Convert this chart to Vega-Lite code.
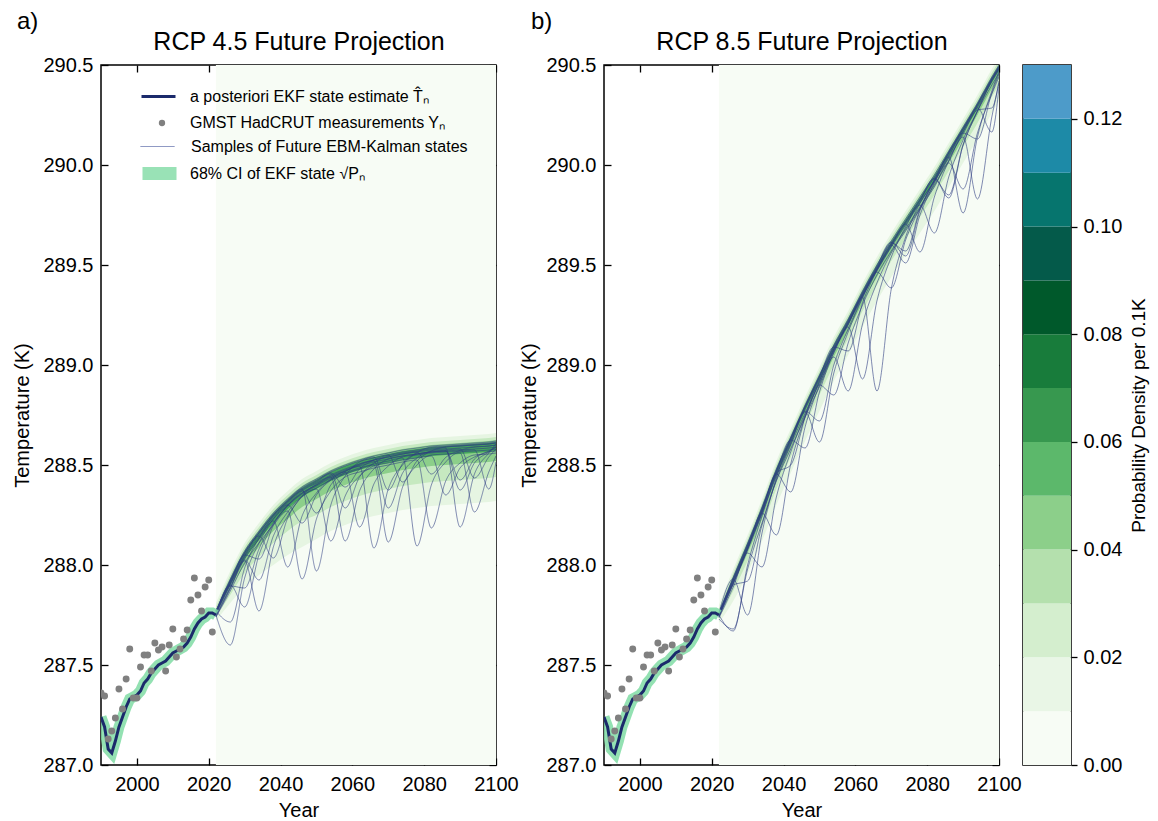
{
 "$schema": "https://vega.github.io/schema/vega-lite/v6.json",
 "padding": {"left": 12, "top": 9, "right": 2, "bottom": 2},
 "background": "white",
 "spacing": 0,
 "datasets": {
  "bg": [{"t0": 2022, "t1": 2100}],
  "hist": [
   {"t":1990,"v":287.24},{"t":1991,"v":287.19},{"t":1992,"v":287.08},{"t":1993,"v":287.06},{"t":1994,"v":287.12},{"t":1995,"v":287.19},{"t":1996,"v":287.24},{"t":1997,"v":287.29},{"t":1998,"v":287.33},{"t":1999,"v":287.34},{"t":2000,"v":287.35},{"t":2001,"v":287.37},{"t":2002,"v":287.41},{"t":2003,"v":287.43},{"t":2004,"v":287.46},{"t":2005,"v":287.48},{"t":2006,"v":287.50},{"t":2007,"v":287.51},{"t":2008,"v":287.52},{"t":2009,"v":287.54},{"t":2010,"v":287.56},{"t":2011,"v":287.57},{"t":2012,"v":287.58},{"t":2013,"v":287.59},{"t":2014,"v":287.61},{"t":2015,"v":287.64},{"t":2016,"v":287.68},{"t":2017,"v":287.71},{"t":2018,"v":287.73},{"t":2019,"v":287.74},{"t":2020,"v":287.76},{"t":2021,"v":287.76},{"t":2022,"v":287.75}
  ],
  "obs": [
   {"t":1990,"v":287.36},{"t":1991,"v":287.345},{"t":1992,"v":287.13},{"t":1993,"v":287.17},{"t":1994,"v":287.235},{"t":1995,"v":287.38},{"t":1996,"v":287.28},{"t":1997,"v":287.43},{"t":1998,"v":287.58},{"t":1999,"v":287.335},{"t":2000,"v":287.335},{"t":2001,"v":287.49},{"t":2002,"v":287.55},{"t":2003,"v":287.55},{"t":2004,"v":287.47},{"t":2005,"v":287.61},{"t":2006,"v":287.575},{"t":2007,"v":287.59},{"t":2008,"v":287.47},{"t":2009,"v":287.60},{"t":2010,"v":287.68},{"t":2011,"v":287.54},{"t":2012,"v":287.58},{"t":2013,"v":287.63},{"t":2014,"v":287.675},{"t":2015,"v":287.825},{"t":2016,"v":287.935},{"t":2017,"v":287.85},{"t":2018,"v":287.77},{"t":2019,"v":287.89},{"t":2020,"v":287.925},{"t":2021,"v":287.665}
  ],
  "ba": [
   {"lv":1,"t":2022,"lo":287.72,"hi":287.81},{"lv":1,"t":2026,"lo":287.81,"hi":287.97},{"lv":1,"t":2030,"lo":287.89,"hi":288.11},{"lv":1,"t":2034,"lo":287.95,"hi":288.21},{"lv":1,"t":2038,"lo":288.00,"hi":288.30},{"lv":1,"t":2042,"lo":288.05,"hi":288.37},{"lv":1,"t":2046,"lo":288.09,"hi":288.43},{"lv":1,"t":2050,"lo":288.13,"hi":288.47},{"lv":1,"t":2054,"lo":288.17,"hi":288.51},{"lv":1,"t":2058,"lo":288.20,"hi":288.54},{"lv":1,"t":2062,"lo":288.225,"hi":288.565},{"lv":1,"t":2066,"lo":288.245,"hi":288.585},{"lv":1,"t":2070,"lo":288.26,"hi":288.60},{"lv":1,"t":2074,"lo":288.275,"hi":288.615},{"lv":1,"t":2078,"lo":288.285,"hi":288.625},{"lv":1,"t":2082,"lo":288.295,"hi":288.635},{"lv":1,"t":2086,"lo":288.30,"hi":288.64},{"lv":1,"t":2090,"lo":288.305,"hi":288.645},{"lv":1,"t":2094,"lo":288.31,"hi":288.65},{"lv":1,"t":2098,"lo":288.315,"hi":288.655},{"lv":1,"t":2100,"lo":288.32,"hi":288.66},
   {"lv":2,"t":2022,"lo":287.74,"hi":287.79},{"lv":2,"t":2026,"lo":287.85,"hi":287.95},{"lv":2,"t":2030,"lo":287.96,"hi":288.09},{"lv":2,"t":2034,"lo":288.04,"hi":288.19},{"lv":2,"t":2038,"lo":288.11,"hi":288.28},{"lv":2,"t":2042,"lo":288.17,"hi":288.35},{"lv":2,"t":2046,"lo":288.22,"hi":288.41},{"lv":2,"t":2050,"lo":288.25,"hi":288.45},{"lv":2,"t":2054,"lo":288.29,"hi":288.49},{"lv":2,"t":2058,"lo":288.32,"hi":288.52},{"lv":2,"t":2062,"lo":288.345,"hi":288.545},{"lv":2,"t":2066,"lo":288.365,"hi":288.565},{"lv":2,"t":2070,"lo":288.38,"hi":288.58},{"lv":2,"t":2074,"lo":288.395,"hi":288.595},{"lv":2,"t":2078,"lo":288.405,"hi":288.605},{"lv":2,"t":2082,"lo":288.415,"hi":288.615},{"lv":2,"t":2086,"lo":288.42,"hi":288.62},{"lv":2,"t":2090,"lo":288.425,"hi":288.625},{"lv":2,"t":2094,"lo":288.43,"hi":288.63},{"lv":2,"t":2098,"lo":288.435,"hi":288.635},{"lv":2,"t":2100,"lo":288.44,"hi":288.64},
   {"lv":3,"t":2022,"lo":287.75,"hi":287.775},{"lv":3,"t":2026,"lo":287.88,"hi":287.935},{"lv":3,"t":2030,"lo":288.00,"hi":288.075},{"lv":3,"t":2034,"lo":288.09,"hi":288.175},{"lv":3,"t":2038,"lo":288.17,"hi":288.265},{"lv":3,"t":2042,"lo":288.23,"hi":288.335},{"lv":3,"t":2046,"lo":288.29,"hi":288.395},{"lv":3,"t":2050,"lo":288.33,"hi":288.435},{"lv":3,"t":2054,"lo":288.37,"hi":288.475},{"lv":3,"t":2058,"lo":288.40,"hi":288.505},{"lv":3,"t":2062,"lo":288.425,"hi":288.53},{"lv":3,"t":2066,"lo":288.445,"hi":288.55},{"lv":3,"t":2070,"lo":288.46,"hi":288.565},{"lv":3,"t":2074,"lo":288.475,"hi":288.58},{"lv":3,"t":2078,"lo":288.485,"hi":288.59},{"lv":3,"t":2082,"lo":288.495,"hi":288.60},{"lv":3,"t":2086,"lo":288.50,"hi":288.605},{"lv":3,"t":2090,"lo":288.505,"hi":288.61},{"lv":3,"t":2094,"lo":288.51,"hi":288.615},{"lv":3,"t":2098,"lo":288.515,"hi":288.62},{"lv":3,"t":2100,"lo":288.52,"hi":288.625},
   {"lv":4,"t":2022,"lo":287.76,"hi":287.765},{"lv":4,"t":2026,"lo":287.90,"hi":287.925},{"lv":4,"t":2030,"lo":288.03,"hi":288.065},{"lv":4,"t":2034,"lo":288.125,"hi":288.165},{"lv":4,"t":2038,"lo":288.21,"hi":288.255},{"lv":4,"t":2042,"lo":288.28,"hi":288.325},{"lv":4,"t":2046,"lo":288.34,"hi":288.385},{"lv":4,"t":2050,"lo":288.38,"hi":288.425},{"lv":4,"t":2054,"lo":288.42,"hi":288.465},{"lv":4,"t":2058,"lo":288.45,"hi":288.495},{"lv":4,"t":2062,"lo":288.475,"hi":288.52},{"lv":4,"t":2066,"lo":288.495,"hi":288.54},{"lv":4,"t":2070,"lo":288.51,"hi":288.555},{"lv":4,"t":2074,"lo":288.525,"hi":288.57},{"lv":4,"t":2078,"lo":288.535,"hi":288.58},{"lv":4,"t":2082,"lo":288.545,"hi":288.59},{"lv":4,"t":2086,"lo":288.55,"hi":288.595},{"lv":4,"t":2090,"lo":288.555,"hi":288.60},{"lv":4,"t":2094,"lo":288.56,"hi":288.605},{"lv":4,"t":2098,"lo":288.565,"hi":288.61},{"lv":4,"t":2100,"lo":288.57,"hi":288.615}
  ],
  "bb": [
   {"lv":1,"t":2022,"lo":287.71,"hi":287.80},{"lv":1,"t":2026,"lo":287.82,"hi":287.98},{"lv":1,"t":2030,"lo":287.96,"hi":288.15},{"lv":1,"t":2034,"lo":288.12,"hi":288.33},{"lv":1,"t":2038,"lo":288.30,"hi":288.52},{"lv":1,"t":2042,"lo":288.46,"hi":288.68},{"lv":1,"t":2046,"lo":288.62,"hi":288.84},{"lv":1,"t":2050,"lo":288.77,"hi":288.99},{"lv":1,"t":2054,"lo":288.92,"hi":289.14},{"lv":1,"t":2058,"lo":289.05,"hi":289.27},{"lv":1,"t":2062,"lo":289.19,"hi":289.41},{"lv":1,"t":2066,"lo":289.32,"hi":289.54},{"lv":1,"t":2070,"lo":289.44,"hi":289.66},{"lv":1,"t":2074,"lo":289.55,"hi":289.77},{"lv":1,"t":2078,"lo":289.66,"hi":289.88},{"lv":1,"t":2082,"lo":289.77,"hi":289.99},{"lv":1,"t":2086,"lo":289.89,"hi":290.11},{"lv":1,"t":2090,"lo":290.01,"hi":290.23},{"lv":1,"t":2094,"lo":290.13,"hi":290.35},{"lv":1,"t":2098,"lo":290.26,"hi":290.48},{"lv":1,"t":2100,"lo":290.32,"hi":290.54},
   {"lv":2,"t":2022,"lo":287.73,"hi":287.78},{"lv":2,"t":2026,"lo":287.87,"hi":287.96},{"lv":2,"t":2030,"lo":288.02,"hi":288.13},{"lv":2,"t":2034,"lo":288.19,"hi":288.31},{"lv":2,"t":2038,"lo":288.38,"hi":288.50},{"lv":2,"t":2042,"lo":288.54,"hi":288.66},{"lv":2,"t":2046,"lo":288.70,"hi":288.82},{"lv":2,"t":2050,"lo":288.85,"hi":288.97},{"lv":2,"t":2054,"lo":289.00,"hi":289.12},{"lv":2,"t":2058,"lo":289.13,"hi":289.25},{"lv":2,"t":2062,"lo":289.27,"hi":289.39},{"lv":2,"t":2066,"lo":289.40,"hi":289.52},{"lv":2,"t":2070,"lo":289.52,"hi":289.64},{"lv":2,"t":2074,"lo":289.63,"hi":289.75},{"lv":2,"t":2078,"lo":289.74,"hi":289.86},{"lv":2,"t":2082,"lo":289.85,"hi":289.97},{"lv":2,"t":2086,"lo":289.97,"hi":290.09},{"lv":2,"t":2090,"lo":290.09,"hi":290.21},{"lv":2,"t":2094,"lo":290.21,"hi":290.33},{"lv":2,"t":2098,"lo":290.34,"hi":290.46},{"lv":2,"t":2100,"lo":290.40,"hi":290.52},
   {"lv":3,"t":2022,"lo":287.74,"hi":287.765},{"lv":3,"t":2026,"lo":287.90,"hi":287.945},{"lv":3,"t":2030,"lo":288.06,"hi":288.115},{"lv":3,"t":2034,"lo":288.23,"hi":288.295},{"lv":3,"t":2038,"lo":288.42,"hi":288.485},{"lv":3,"t":2042,"lo":288.58,"hi":288.645},{"lv":3,"t":2046,"lo":288.74,"hi":288.805},{"lv":3,"t":2050,"lo":288.89,"hi":288.955},{"lv":3,"t":2054,"lo":289.04,"hi":289.105},{"lv":3,"t":2058,"lo":289.17,"hi":289.235},{"lv":3,"t":2062,"lo":289.31,"hi":289.375},{"lv":3,"t":2066,"lo":289.44,"hi":289.505},{"lv":3,"t":2070,"lo":289.56,"hi":289.625},{"lv":3,"t":2074,"lo":289.67,"hi":289.735},{"lv":3,"t":2078,"lo":289.78,"hi":289.845},{"lv":3,"t":2082,"lo":289.89,"hi":289.955},{"lv":3,"t":2086,"lo":290.01,"hi":290.075},{"lv":3,"t":2090,"lo":290.13,"hi":290.195},{"lv":3,"t":2094,"lo":290.25,"hi":290.315},{"lv":3,"t":2098,"lo":290.38,"hi":290.445},{"lv":3,"t":2100,"lo":290.44,"hi":290.505},
   {"lv":4,"t":2022,"lo":287.75,"hi":287.755},{"lv":4,"t":2026,"lo":287.92,"hi":287.935},{"lv":4,"t":2030,"lo":288.08,"hi":288.105},{"lv":4,"t":2034,"lo":288.26,"hi":288.285},{"lv":4,"t":2038,"lo":288.45,"hi":288.475},{"lv":4,"t":2042,"lo":288.61,"hi":288.635},{"lv":4,"t":2046,"lo":288.77,"hi":288.795},{"lv":4,"t":2050,"lo":288.92,"hi":288.945},{"lv":4,"t":2054,"lo":289.07,"hi":289.095},{"lv":4,"t":2058,"lo":289.20,"hi":289.225},{"lv":4,"t":2062,"lo":289.34,"hi":289.365},{"lv":4,"t":2066,"lo":289.47,"hi":289.495},{"lv":4,"t":2070,"lo":289.59,"hi":289.615},{"lv":4,"t":2074,"lo":289.70,"hi":289.725},{"lv":4,"t":2078,"lo":289.81,"hi":289.835},{"lv":4,"t":2082,"lo":289.92,"hi":289.945},{"lv":4,"t":2086,"lo":290.04,"hi":290.065},{"lv":4,"t":2090,"lo":290.16,"hi":290.185},{"lv":4,"t":2094,"lo":290.28,"hi":290.305},{"lv":4,"t":2098,"lo":290.41,"hi":290.435},{"lv":4,"t":2100,"lo":290.47,"hi":290.495}
  ],
  "sa": [
   {"s":1,"t":2022,"v":287.77},{"s":1,"t":2026,"v":287.93},{"s":1,"t":2030,"v":288.07},{"s":1,"t":2034,"v":288.17},{"s":1,"t":2038,"v":288.26},{"s":1,"t":2042,"v":288.33},{"s":1,"t":2046,"v":288.39},{"s":1,"t":2050,"v":288.43},{"s":1,"t":2054,"v":288.47},{"s":1,"t":2058,"v":288.50},{"s":1,"t":2062,"v":288.525},{"s":1,"t":2066,"v":288.545},{"s":1,"t":2070,"v":288.56},{"s":1,"t":2074,"v":288.575},{"s":1,"t":2078,"v":288.585},{"s":1,"t":2082,"v":288.595},{"s":1,"t":2086,"v":288.60},{"s":1,"t":2090,"v":288.605},{"s":1,"t":2094,"v":288.61},{"s":1,"t":2098,"v":288.615},{"s":1,"t":2100,"v":288.62},
   {"s":2,"t":2022,"v":287.76},{"s":2,"t":2026,"v":287.91},{"s":2,"t":2030,"v":288.05},{"s":2,"t":2034,"v":288.15},{"s":2,"t":2038,"v":288.24},{"s":2,"t":2042,"v":288.31},{"s":2,"t":2046,"v":288.37},{"s":2,"t":2050,"v":288.26},{"s":2,"t":2054,"v":288.40},{"s":2,"t":2058,"v":288.465},{"s":2,"t":2062,"v":288.505},{"s":2,"t":2066,"v":288.525},{"s":2,"t":2070,"v":288.54},{"s":2,"t":2074,"v":288.555},{"s":2,"t":2078,"v":288.565},{"s":2,"t":2082,"v":288.575},{"s":2,"t":2086,"v":288.58},{"s":2,"t":2090,"v":288.585},{"s":2,"t":2094,"v":288.59},{"s":2,"t":2098,"v":288.595},{"s":2,"t":2100,"v":288.60},
   {"s":3,"t":2022,"v":287.755},{"s":3,"t":2026,"v":287.90},{"s":3,"t":2030,"v":287.79},{"s":3,"t":2034,"v":288.05},{"s":3,"t":2038,"v":288.205},{"s":3,"t":2042,"v":288.30},{"s":3,"t":2046,"v":288.36},{"s":3,"t":2050,"v":288.40},{"s":3,"t":2054,"v":288.44},{"s":3,"t":2058,"v":288.47},{"s":3,"t":2062,"v":288.495},{"s":3,"t":2066,"v":288.085},{"s":3,"t":2070,"v":288.38},{"s":3,"t":2074,"v":288.50},{"s":3,"t":2078,"v":288.555},{"s":3,"t":2082,"v":288.565},{"s":3,"t":2086,"v":288.57},{"s":3,"t":2090,"v":288.575},{"s":3,"t":2094,"v":288.58},{"s":3,"t":2098,"v":288.585},{"s":3,"t":2100,"v":288.59},
   {"s":4,"t":2022,"v":287.75},{"s":4,"t":2026,"v":287.89},{"s":4,"t":2030,"v":288.03},{"s":4,"t":2034,"v":288.13},{"s":4,"t":2038,"v":288.22},{"s":4,"t":2042,"v":287.99},{"s":4,"t":2046,"v":288.245},{"s":4,"t":2050,"v":288.36},{"s":4,"t":2054,"v":288.43},{"s":4,"t":2058,"v":288.46},{"s":4,"t":2062,"v":288.485},{"s":4,"t":2066,"v":288.505},{"s":4,"t":2070,"v":288.52},{"s":4,"t":2074,"v":288.535},{"s":4,"t":2078,"v":288.095},{"s":4,"t":2082,"v":288.40},{"s":4,"t":2086,"v":288.515},{"s":4,"t":2090,"v":288.565},{"s":4,"t":2094,"v":288.57},{"s":4,"t":2098,"v":288.575},{"s":4,"t":2100,"v":288.58},
   {"s":5,"t":2022,"v":287.77},{"s":5,"t":2026,"v":287.715},{"s":5,"t":2030,"v":287.985},{"s":5,"t":2034,"v":288.135},{"s":5,"t":2038,"v":288.245},{"s":5,"t":2042,"v":288.315},{"s":5,"t":2046,"v":288.375},{"s":5,"t":2050,"v":288.415},{"s":5,"t":2054,"v":288.455},{"s":5,"t":2058,"v":288.285},{"s":5,"t":2062,"v":288.44},{"s":5,"t":2066,"v":288.51},{"s":5,"t":2070,"v":288.545},{"s":5,"t":2074,"v":288.56},{"s":5,"t":2078,"v":288.57},{"s":5,"t":2082,"v":288.58},{"s":5,"t":2086,"v":288.585},{"s":5,"t":2090,"v":288.19},{"s":5,"t":2094,"v":288.455},{"s":5,"t":2098,"v":288.56},{"s":5,"t":2100,"v":288.605},
   {"s":6,"t":2022,"v":287.745},{"s":6,"t":2026,"v":287.88},{"s":6,"t":2030,"v":288.02},{"s":6,"t":2034,"v":287.77},{"s":6,"t":2038,"v":288.09},{"s":6,"t":2042,"v":288.245},{"s":6,"t":2046,"v":288.34},{"s":6,"t":2050,"v":288.38},{"s":6,"t":2054,"v":288.12},{"s":6,"t":2058,"v":288.345},{"s":6,"t":2062,"v":288.445},{"s":6,"t":2066,"v":288.495},{"s":6,"t":2070,"v":288.51},{"s":6,"t":2074,"v":288.525},{"s":6,"t":2078,"v":288.535},{"s":6,"t":2082,"v":288.545},{"s":6,"t":2086,"v":288.35},{"s":6,"t":2090,"v":288.485},{"s":6,"t":2094,"v":288.54},{"s":6,"t":2098,"v":288.565},{"s":6,"t":2100,"v":288.57},
   {"s":7,"t":2022,"v":287.76},{"s":7,"t":2026,"v":287.905},{"s":7,"t":2030,"v":288.045},{"s":7,"t":2034,"v":288.145},{"s":7,"t":2038,"v":288.035},{"s":7,"t":2042,"v":288.235},{"s":7,"t":2046,"v":288.345},{"s":7,"t":2050,"v":288.405},{"s":7,"t":2054,"v":288.445},{"s":7,"t":2058,"v":288.475},{"s":7,"t":2062,"v":288.50},{"s":7,"t":2066,"v":288.52},{"s":7,"t":2070,"v":288.285},{"s":7,"t":2074,"v":288.46},{"s":7,"t":2078,"v":288.535},{"s":7,"t":2082,"v":288.57},{"s":7,"t":2086,"v":288.575},{"s":7,"t":2090,"v":288.58},{"s":7,"t":2094,"v":288.435},{"s":7,"t":2098,"v":288.54},{"s":7,"t":2100,"v":288.58},
   {"s":8,"t":2022,"v":287.74},{"s":8,"t":2026,"v":287.87},{"s":8,"t":2030,"v":288.01},{"s":8,"t":2034,"v":288.11},{"s":8,"t":2038,"v":288.20},{"s":8,"t":2042,"v":288.27},{"s":8,"t":2046,"v":287.93},{"s":8,"t":2050,"v":288.23},{"s":8,"t":2054,"v":288.37},{"s":8,"t":2058,"v":288.44},{"s":8,"t":2062,"v":288.465},{"s":8,"t":2066,"v":288.485},{"s":8,"t":2070,"v":288.50},{"s":8,"t":2074,"v":288.515},{"s":8,"t":2078,"v":288.525},{"s":8,"t":2082,"v":288.185},{"s":8,"t":2086,"v":288.42},{"s":8,"t":2090,"v":288.51},{"s":8,"t":2094,"v":288.55},{"s":8,"t":2098,"v":288.555},{"s":8,"t":2100,"v":288.56},
   {"s":9,"t":2022,"v":287.75},{"s":9,"t":2026,"v":287.895},{"s":9,"t":2030,"v":287.885},{"s":9,"t":2034,"v":288.08},{"s":9,"t":2038,"v":288.21},{"s":9,"t":2042,"v":288.295},{"s":9,"t":2046,"v":288.355},{"s":9,"t":2050,"v":288.395},{"s":9,"t":2054,"v":288.435},{"s":9,"t":2058,"v":288.465},{"s":9,"t":2062,"v":288.19},{"s":9,"t":2066,"v":288.405},{"s":9,"t":2070,"v":288.495},{"s":9,"t":2074,"v":288.54},{"s":9,"t":2078,"v":288.55},{"s":9,"t":2082,"v":288.56},{"s":9,"t":2086,"v":288.565},{"s":9,"t":2090,"v":288.57},{"s":9,"t":2094,"v":288.575},{"s":9,"t":2098,"v":288.38},{"s":9,"t":2100,"v":288.515},
   {"s":10,"t":2022,"v":287.77},{"s":10,"t":2026,"v":287.92},{"s":10,"t":2030,"v":288.06},{"s":10,"t":2034,"v":288.16},{"s":10,"t":2038,"v":288.25},{"s":10,"t":2042,"v":288.32},{"s":10,"t":2046,"v":288.38},{"s":10,"t":2050,"v":287.97},{"s":10,"t":2054,"v":288.30},{"s":10,"t":2058,"v":288.445},{"s":10,"t":2062,"v":288.515},{"s":10,"t":2066,"v":288.535},{"s":10,"t":2070,"v":288.55},{"s":10,"t":2074,"v":288.415},{"s":10,"t":2078,"v":288.52},{"s":10,"t":2082,"v":288.57},{"s":10,"t":2086,"v":288.59},{"s":10,"t":2090,"v":288.595},{"s":10,"t":2094,"v":288.60},{"s":10,"t":2098,"v":288.605},{"s":10,"t":2100,"v":288.61},
   {"s":11,"t":2022,"v":287.75},{"s":11,"t":2026,"v":287.60},{"s":11,"t":2030,"v":287.935},{"s":11,"t":2034,"v":288.11},{"s":11,"t":2038,"v":288.23},{"s":11,"t":2042,"v":288.30},{"s":11,"t":2046,"v":288.36},{"s":11,"t":2050,"v":288.40},{"s":11,"t":2054,"v":288.44},{"s":11,"t":2058,"v":288.12},{"s":11,"t":2062,"v":288.37},{"s":11,"t":2066,"v":288.48},{"s":11,"t":2070,"v":288.53},{"s":11,"t":2074,"v":288.545},{"s":11,"t":2078,"v":288.555},{"s":11,"t":2082,"v":288.565},{"s":11,"t":2086,"v":288.57},{"s":11,"t":2090,"v":288.375},{"s":11,"t":2094,"v":288.51},{"s":11,"t":2098,"v":288.565},{"s":11,"t":2100,"v":288.59},
   {"s":12,"t":2022,"v":287.74},{"s":12,"t":2026,"v":287.885},{"s":12,"t":2030,"v":288.025},{"s":12,"t":2034,"v":287.925},{"s":12,"t":2038,"v":288.145},{"s":12,"t":2042,"v":288.265},{"s":12,"t":2046,"v":288.345},{"s":12,"t":2050,"v":288.385},{"s":12,"t":2054,"v":288.425},{"s":12,"t":2058,"v":288.455},{"s":12,"t":2062,"v":288.48},{"s":12,"t":2066,"v":288.50},{"s":12,"t":2070,"v":288.115},{"s":12,"t":2074,"v":288.39},{"s":12,"t":2078,"v":288.50},{"s":12,"t":2082,"v":288.55},{"s":12,"t":2086,"v":288.555},{"s":12,"t":2090,"v":288.56},{"s":12,"t":2094,"v":288.265},{"s":12,"t":2098,"v":288.465},{"s":12,"t":2100,"v":288.545},
   {"s":13,"t":2022,"v":287.765},{"s":13,"t":2026,"v":287.92},{"s":13,"t":2030,"v":288.06},{"s":13,"t":2034,"v":288.16},{"s":13,"t":2038,"v":288.25},{"s":13,"t":2042,"v":288.32},{"s":13,"t":2046,"v":288.38},{"s":13,"t":2050,"v":288.42},{"s":13,"t":2054,"v":288.46},{"s":13,"t":2058,"v":288.39},{"s":13,"t":2062,"v":288.48},{"s":13,"t":2066,"v":288.525},{"s":13,"t":2070,"v":288.55},{"s":13,"t":2074,"v":288.565},{"s":13,"t":2078,"v":288.575},{"s":13,"t":2082,"v":288.585},{"s":13,"t":2086,"v":288.59},{"s":13,"t":2090,"v":288.595},{"s":13,"t":2094,"v":288.60},{"s":13,"t":2098,"v":288.605},{"s":13,"t":2100,"v":288.61},
   {"s":14,"t":2022,"v":287.76},{"s":14,"t":2026,"v":287.91},{"s":14,"t":2030,"v":288.05},{"s":14,"t":2034,"v":288.03},{"s":14,"t":2038,"v":288.198},{"s":14,"t":2042,"v":288.298},{"s":14,"t":2046,"v":288.37},{"s":14,"t":2050,"v":288.41},{"s":14,"t":2054,"v":288.45},{"s":14,"t":2058,"v":288.48},{"s":14,"t":2062,"v":288.505},{"s":14,"t":2066,"v":288.525},{"s":14,"t":2070,"v":288.54},{"s":14,"t":2074,"v":288.555},{"s":14,"t":2078,"v":288.565},{"s":14,"t":2082,"v":288.455},{"s":14,"t":2086,"v":288.538},{"s":14,"t":2090,"v":288.573},{"s":14,"t":2094,"v":288.59},{"s":14,"t":2098,"v":288.595},{"s":14,"t":2100,"v":288.60},
   {"s":15,"t":2022,"v":287.77},{"s":15,"t":2026,"v":287.925},{"s":15,"t":2030,"v":288.065},{"s":15,"t":2034,"v":288.165},{"s":15,"t":2038,"v":288.255},{"s":15,"t":2042,"v":288.325},{"s":15,"t":2046,"v":288.385},{"s":15,"t":2050,"v":288.425},{"s":15,"t":2054,"v":288.465},{"s":15,"t":2058,"v":288.495},{"s":15,"t":2062,"v":288.52},{"s":15,"t":2066,"v":288.54},{"s":15,"t":2070,"v":288.375},{"s":15,"t":2074,"v":288.507},{"s":15,"t":2078,"v":288.562},{"s":15,"t":2082,"v":288.59},{"s":15,"t":2086,"v":288.595},{"s":15,"t":2090,"v":288.60},{"s":15,"t":2094,"v":288.605},{"s":15,"t":2098,"v":288.61},{"s":15,"t":2100,"v":288.615},
   {"s":16,"t":2022,"v":287.755},{"s":16,"t":2026,"v":287.90},{"s":16,"t":2030,"v":288.04},{"s":16,"t":2034,"v":288.14},{"s":16,"t":2038,"v":288.23},{"s":16,"t":2042,"v":288.30},{"s":16,"t":2046,"v":288.21},{"s":16,"t":2050,"v":288.35},{"s":16,"t":2054,"v":288.425},{"s":16,"t":2058,"v":288.47},{"s":16,"t":2062,"v":288.495},{"s":16,"t":2066,"v":288.515},{"s":16,"t":2070,"v":288.53},{"s":16,"t":2074,"v":288.545},{"s":16,"t":2078,"v":288.555},{"s":16,"t":2082,"v":288.565},{"s":16,"t":2086,"v":288.57},{"s":16,"t":2090,"v":288.425},{"s":16,"t":2094,"v":288.53},{"s":16,"t":2098,"v":288.57},{"s":16,"t":2100,"v":288.59}
  ],
  "sb": [
   {"s":1,"t":2022,"v":287.76},{"s":1,"t":2026,"v":287.94},{"s":1,"t":2030,"v":288.11},{"s":1,"t":2034,"v":288.29},{"s":1,"t":2038,"v":288.48},{"s":1,"t":2042,"v":288.64},{"s":1,"t":2046,"v":288.80},{"s":1,"t":2050,"v":288.95},{"s":1,"t":2054,"v":289.10},{"s":1,"t":2058,"v":289.23},{"s":1,"t":2062,"v":289.37},{"s":1,"t":2066,"v":289.50},{"s":1,"t":2070,"v":289.62},{"s":1,"t":2074,"v":289.73},{"s":1,"t":2078,"v":289.84},{"s":1,"t":2082,"v":289.95},{"s":1,"t":2086,"v":290.07},{"s":1,"t":2090,"v":290.19},{"s":1,"t":2094,"v":290.31},{"s":1,"t":2098,"v":290.44},{"s":1,"t":2100,"v":290.50},
   {"s":2,"t":2022,"v":287.75},{"s":2,"t":2026,"v":287.67},{"s":2,"t":2030,"v":288.00},{"s":2,"t":2034,"v":288.245},{"s":2,"t":2038,"v":288.46},{"s":2,"t":2042,"v":288.62},{"s":2,"t":2046,"v":288.78},{"s":2,"t":2050,"v":288.93},{"s":2,"t":2054,"v":289.08},{"s":2,"t":2058,"v":289.21},{"s":2,"t":2062,"v":289.35},{"s":2,"t":2066,"v":289.48},{"s":2,"t":2070,"v":289.60},{"s":2,"t":2074,"v":289.51},{"s":2,"t":2078,"v":289.75},{"s":2,"t":2082,"v":289.91},{"s":2,"t":2086,"v":290.05},{"s":2,"t":2090,"v":290.17},{"s":2,"t":2094,"v":290.29},{"s":2,"t":2098,"v":290.42},{"s":2,"t":2100,"v":290.48},
   {"s":3,"t":2022,"v":287.745},{"s":3,"t":2026,"v":287.91},{"s":3,"t":2030,"v":288.08},{"s":3,"t":2034,"v":288.26},{"s":3,"t":2038,"v":288.15},{"s":3,"t":2042,"v":288.505},{"s":3,"t":2046,"v":288.74},{"s":3,"t":2050,"v":288.92},{"s":3,"t":2054,"v":289.07},{"s":3,"t":2058,"v":289.20},{"s":3,"t":2062,"v":289.34},{"s":3,"t":2066,"v":288.87},{"s":3,"t":2070,"v":289.38},{"s":3,"t":2074,"v":289.64},{"s":3,"t":2078,"v":289.81},{"s":3,"t":2082,"v":289.92},{"s":3,"t":2086,"v":290.04},{"s":3,"t":2090,"v":289.76},{"s":3,"t":2094,"v":290.14},{"s":3,"t":2098,"v":290.37},{"s":3,"t":2100,"v":290.47},
   {"s":4,"t":2022,"v":287.74},{"s":4,"t":2026,"v":287.90},{"s":4,"t":2030,"v":287.92},{"s":4,"t":2034,"v":288.20},{"s":4,"t":2038,"v":288.425},{"s":4,"t":2042,"v":288.60},{"s":4,"t":2046,"v":288.76},{"s":4,"t":2050,"v":288.91},{"s":4,"t":2054,"v":289.06},{"s":4,"t":2058,"v":289.19},{"s":4,"t":2062,"v":288.93},{"s":4,"t":2066,"v":289.32},{"s":4,"t":2070,"v":289.54},{"s":4,"t":2074,"v":289.69},{"s":4,"t":2078,"v":289.80},{"s":4,"t":2082,"v":289.66},{"s":4,"t":2086,"v":289.94},{"s":4,"t":2090,"v":290.125},{"s":4,"t":2094,"v":290.27},{"s":4,"t":2098,"v":290.40},{"s":4,"t":2100,"v":290.46},
   {"s":5,"t":2022,"v":287.76},{"s":5,"t":2026,"v":287.925},{"s":5,"t":2030,"v":288.095},{"s":5,"t":2034,"v":288.275},{"s":5,"t":2038,"v":288.465},{"s":5,"t":2042,"v":288.625},{"s":5,"t":2046,"v":288.585},{"s":5,"t":2050,"v":288.865},{"s":5,"t":2054,"v":289.065},{"s":5,"t":2058,"v":289.215},{"s":5,"t":2062,"v":289.355},{"s":5,"t":2066,"v":289.485},{"s":5,"t":2070,"v":289.605},{"s":5,"t":2074,"v":289.715},{"s":5,"t":2078,"v":289.825},{"s":5,"t":2082,"v":289.935},{"s":5,"t":2086,"v":289.835},{"s":5,"t":2090,"v":290.10},{"s":5,"t":2094,"v":290.27},{"s":5,"t":2098,"v":290.425},{"s":5,"t":2100,"v":290.485},
   {"s":6,"t":2022,"v":287.735},{"s":6,"t":2026,"v":287.89},{"s":6,"t":2030,"v":288.06},{"s":6,"t":2034,"v":287.99},{"s":6,"t":2038,"v":288.34},{"s":6,"t":2042,"v":288.565},{"s":6,"t":2046,"v":288.75},{"s":6,"t":2050,"v":288.90},{"s":6,"t":2054,"v":288.85},{"s":6,"t":2058,"v":289.11},{"s":6,"t":2062,"v":289.30},{"s":6,"t":2066,"v":289.45},{"s":6,"t":2070,"v":289.57},{"s":6,"t":2074,"v":289.68},{"s":6,"t":2078,"v":289.79},{"s":6,"t":2082,"v":289.90},{"s":6,"t":2086,"v":290.02},{"s":6,"t":2090,"v":290.14},{"s":6,"t":2094,"v":289.83},{"s":6,"t":2098,"v":290.24},{"s":6,"t":2100,"v":290.41},
   {"s":7,"t":2022,"v":287.75},{"s":7,"t":2026,"v":287.915},{"s":7,"t":2030,"v":288.085},{"s":7,"t":2034,"v":288.265},{"s":7,"t":2038,"v":288.455},{"s":7,"t":2042,"v":288.365},{"s":7,"t":2046,"v":288.69},{"s":7,"t":2050,"v":288.90},{"s":7,"t":2054,"v":289.075},{"s":7,"t":2058,"v":289.205},{"s":7,"t":2062,"v":289.345},{"s":7,"t":2066,"v":289.475},{"s":7,"t":2070,"v":289.595},{"s":7,"t":2074,"v":289.705},{"s":7,"t":2078,"v":289.565},{"s":7,"t":2082,"v":289.84},{"s":7,"t":2086,"v":290.02},{"s":7,"t":2090,"v":290.165},{"s":7,"t":2094,"v":290.285},{"s":7,"t":2098,"v":290.165},{"s":7,"t":2100,"v":290.39},
   {"s":8,"t":2022,"v":287.73},{"s":8,"t":2026,"v":287.68},{"s":8,"t":2030,"v":287.98},{"s":8,"t":2034,"v":288.21},{"s":8,"t":2038,"v":288.42},{"s":8,"t":2042,"v":288.58},{"s":8,"t":2046,"v":288.74},{"s":8,"t":2050,"v":288.89},{"s":8,"t":2054,"v":289.04},{"s":8,"t":2058,"v":288.87},{"s":8,"t":2062,"v":289.205},{"s":8,"t":2066,"v":289.41},{"s":8,"t":2070,"v":289.56},{"s":8,"t":2074,"v":289.67},{"s":8,"t":2078,"v":289.78},{"s":8,"t":2082,"v":289.89},{"s":8,"t":2086,"v":290.01},{"s":8,"t":2090,"v":289.88},{"s":8,"t":2094,"v":290.16},{"s":8,"t":2098,"v":290.355},{"s":8,"t":2100,"v":290.44},
   {"s":9,"t":2022,"v":287.74},{"s":9,"t":2026,"v":287.905},{"s":9,"t":2030,"v":288.075},{"s":9,"t":2034,"v":288.255},{"s":9,"t":2038,"v":288.445},{"s":9,"t":2042,"v":288.605},{"s":9,"t":2046,"v":288.765},{"s":9,"t":2050,"v":288.615},{"s":9,"t":2054,"v":288.96},{"s":9,"t":2058,"v":289.165},{"s":9,"t":2062,"v":289.335},{"s":9,"t":2066,"v":289.465},{"s":9,"t":2070,"v":289.385},{"s":9,"t":2074,"v":289.625},{"s":9,"t":2078,"v":289.785},{"s":9,"t":2082,"v":289.915},{"s":9,"t":2086,"v":290.035},{"s":9,"t":2090,"v":290.155},{"s":9,"t":2094,"v":290.275},{"s":9,"t":2098,"v":290.285},{"s":9,"t":2100,"v":290.42},
   {"s":10,"t":2022,"v":287.76},{"s":10,"t":2026,"v":287.93},{"s":10,"t":2030,"v":287.75},{"s":10,"t":2034,"v":288.16},{"s":10,"t":2038,"v":288.435},{"s":10,"t":2042,"v":288.63},{"s":10,"t":2046,"v":288.79},{"s":10,"t":2050,"v":288.94},{"s":10,"t":2054,"v":289.09},{"s":10,"t":2058,"v":289.22},{"s":10,"t":2062,"v":289.36},{"s":10,"t":2066,"v":289.49},{"s":10,"t":2070,"v":289.61},{"s":10,"t":2074,"v":289.57},{"s":10,"t":2078,"v":289.78},{"s":10,"t":2082,"v":289.925},{"s":10,"t":2086,"v":290.06},{"s":10,"t":2090,"v":290.18},{"s":10,"t":2094,"v":290.30},{"s":10,"t":2098,"v":290.43},{"s":10,"t":2100,"v":290.49},
   {"s":11,"t":2022,"v":287.755},{"s":11,"t":2026,"v":287.93},{"s":11,"t":2030,"v":288.10},{"s":11,"t":2034,"v":288.28},{"s":11,"t":2038,"v":288.47},{"s":11,"t":2042,"v":288.63},{"s":11,"t":2046,"v":288.79},{"s":11,"t":2050,"v":288.94},{"s":11,"t":2054,"v":289.09},{"s":11,"t":2058,"v":289.07},{"s":11,"t":2062,"v":289.31},{"s":11,"t":2066,"v":289.475},{"s":11,"t":2070,"v":289.61},{"s":11,"t":2074,"v":289.72},{"s":11,"t":2078,"v":289.83},{"s":11,"t":2082,"v":289.94},{"s":11,"t":2086,"v":290.06},{"s":11,"t":2090,"v":290.18},{"s":11,"t":2094,"v":290.30},{"s":11,"t":2098,"v":290.43},{"s":11,"t":2100,"v":290.49},
   {"s":12,"t":2022,"v":287.75},{"s":12,"t":2026,"v":287.92},{"s":12,"t":2030,"v":288.09},{"s":12,"t":2034,"v":288.27},{"s":12,"t":2038,"v":288.46},{"s":12,"t":2042,"v":288.50},{"s":12,"t":2046,"v":288.738},{"s":12,"t":2050,"v":288.918},{"s":12,"t":2054,"v":289.08},{"s":12,"t":2058,"v":289.21},{"s":12,"t":2062,"v":289.35},{"s":12,"t":2066,"v":289.48},{"s":12,"t":2070,"v":289.60},{"s":12,"t":2074,"v":289.71},{"s":12,"t":2078,"v":289.82},{"s":12,"t":2082,"v":289.93},{"s":12,"t":2086,"v":289.85},{"s":12,"t":2090,"v":290.10},{"s":12,"t":2094,"v":290.27},{"s":12,"t":2098,"v":290.42},{"s":12,"t":2100,"v":290.48},
   {"s":13,"t":2022,"v":287.76},{"s":13,"t":2026,"v":287.935},{"s":13,"t":2030,"v":288.105},{"s":13,"t":2034,"v":288.285},{"s":13,"t":2038,"v":288.475},{"s":13,"t":2042,"v":288.635},{"s":13,"t":2046,"v":288.795},{"s":13,"t":2050,"v":288.945},{"s":13,"t":2054,"v":289.095},{"s":13,"t":2058,"v":289.225},{"s":13,"t":2062,"v":289.365},{"s":13,"t":2066,"v":289.495},{"s":13,"t":2070,"v":289.615},{"s":13,"t":2074,"v":289.545},{"s":13,"t":2078,"v":289.772},{"s":13,"t":2082,"v":289.927},{"s":13,"t":2086,"v":290.065},{"s":13,"t":2090,"v":290.185},{"s":13,"t":2094,"v":290.305},{"s":13,"t":2098,"v":290.435},{"s":13,"t":2100,"v":290.495},
   {"s":14,"t":2022,"v":287.745},{"s":14,"t":2026,"v":287.91},{"s":14,"t":2030,"v":288.08},{"s":14,"t":2034,"v":288.26},{"s":14,"t":2038,"v":288.45},{"s":14,"t":2042,"v":288.61},{"s":14,"t":2046,"v":288.77},{"s":14,"t":2050,"v":288.72},{"s":14,"t":2054,"v":289.00},{"s":14,"t":2058,"v":289.18},{"s":14,"t":2062,"v":289.34},{"s":14,"t":2066,"v":289.47},{"s":14,"t":2070,"v":289.59},{"s":14,"t":2074,"v":289.70},{"s":14,"t":2078,"v":289.81},{"s":14,"t":2082,"v":289.92},{"s":14,"t":2086,"v":290.04},{"s":14,"t":2090,"v":290.16},{"s":14,"t":2094,"v":290.13},{"s":14,"t":2098,"v":290.36},{"s":14,"t":2100,"v":290.455}
  ],
  "cb": [
   {"k":1,"lo":0.00,"hi":0.01},{"k":2,"lo":0.01,"hi":0.02},{"k":3,"lo":0.02,"hi":0.03},{"k":4,"lo":0.03,"hi":0.04},{"k":5,"lo":0.04,"hi":0.05},{"k":6,"lo":0.05,"hi":0.06},{"k":7,"lo":0.06,"hi":0.07},{"k":8,"lo":0.07,"hi":0.08},{"k":9,"lo":0.08,"hi":0.09},{"k":10,"lo":0.09,"hi":0.10},{"k":11,"lo":0.10,"hi":0.11},{"k":12,"lo":0.11,"hi":0.12},{"k":13,"lo":0.12,"hi":0.13}
  ]
 },
 "hconcat": [
  {
   "width": 395, "height": 700,
   "title": {"text": "a)", "anchor": "start", "frame": "bounds", "fontSize": 24, "fontWeight": "normal", "offset": -5, "dx": 4},
   "resolve": {"axis": {"x": "independent", "y": "independent"}},
   "layer": [
    {"data": {"name": "bg"}, "mark": {"type": "rect", "color": "#f7fcf5", "clip": true},
     "encoding": {
      "x": {"field": "t0", "type": "quantitative", "scale": {"domain": [1990, 2100], "nice": false, "zero": false},
            "axis": {"orient": "bottom", "values": [2000,2020,2040,2060,2080,2100], "format": "d", "tickSize": -7, "labelPadding": 16, "labelFlush": false, "title": "Year", "titlePadding": 6}},
      "x2": {"field": "t1"},
      "y": {"datum": 287, "type": "quantitative", "scale": {"domain": [287, 290.5], "nice": false, "zero": false},
            "axis": {"orient": "left", "values": [287,287.5,288,288.5,289,289.5,290,290.5], "format": ".1f", "tickSize": -7, "labelPadding": 15, "title": "Temperature (K)", "titlePadding": 10}},
      "y2": {"datum": 290.5}
     }},
    {"data": {"name": "ba"}, "mark": {"type": "area", "clip": true, "interpolate": "monotone"},
     "encoding": {
      "x": {"field": "t", "type": "quantitative", "axis": null},
      "y": {"field": "lo", "type": "quantitative", "axis": null},
      "y2": {"field": "hi"},
      "fill": {"field": "lv", "type": "ordinal", "scale": {"domain": [1,2,3,4], "range": ["#e6f5e2", "#c6e9c0", "#8ccf8a", "#45a55d"]}, "legend": null}
     }},
    {"data": {"name": "sa"}, "mark": {"type": "line", "clip": true, "opacity": 0.75, "strokeWidth": 0.8, "color": "#2e3d82", "interpolate": "monotone"},
     "encoding": {
      "x": {"field": "t", "type": "quantitative", "axis": null},
      "y": {"field": "v", "type": "quantitative", "axis": null},
      "detail": {"field": "s", "type": "nominal"},
      "strokeDash": {"datum": "Samples of Future EBM-Kalman states", "type": "nominal",
        "scale": {"domain": ["Samples of Future EBM-Kalman states"], "range": [[1, 0]]},
        "legend": {"title": null, "orient": "none", "legendX": 39, "legendY": 64, "padding": 0, "symbolType": "stroke", "symbolSize": 1156, "symbolStrokeWidth": 1, "symbolStrokeColor": "#6a78b0", "symbolOpacity": 1, "labelFontSize": 16, "labelColor": "black", "labelOffset": 16, "labelLimit": 400}}
     }},
    {"data": {"name": "hist"}, "mark": {"type": "line", "clip": true, "opacity": 0.85, "strokeWidth": 11},
     "encoding": {
      "x": {"field": "t", "type": "quantitative", "axis": null},
      "y": {"field": "v", "type": "quantitative", "axis": null},
      "stroke": {"datum": "68% CI of EKF state \u221aP\u2099", "type": "nominal",
        "scale": {"domain": ["68% CI of EKF state \u221aP\u2099"], "range": ["#80dca4"]},
        "legend": {"title": null, "orient": "none", "legendX": 35, "legendY": 85, "padding": 0, "symbolType": "stroke", "symbolSize": 1156, "symbolStrokeWidth": 13, "symbolOpacity": 0.8, "labelFontSize": 16, "labelColor": "black", "labelOffset": 7, "labelLimit": 400}}
     }},
    {"data": {"name": "hist"}, "mark": {"type": "line", "clip": true, "strokeWidth": 3},
     "encoding": {
      "x": {"field": "t", "type": "quantitative", "axis": {"orient": "top", "values": [2000,2020,2040,2060,2080,2100], "tickSize": -7, "labels": false, "title": "RCP 4.5 Future Projection", "titleFontSize": 25, "titlePadding": 10}},
      "y": {"field": "v", "type": "quantitative", "axis": {"orient": "right", "values": [287,287.5,288,288.5,289,289.5,290,290.5], "tickSize": -7, "labels": false, "title": null}},
      "color": {"datum": "a posteriori EKF state estimate T\u0302\u2099", "type": "nominal",
        "scale": {"domain": ["a posteriori EKF state estimate T\u0302\u2099"], "range": ["#1b2a6b"]},
        "legend": {"title": null, "orient": "none", "legendX": 39, "legendY": 13, "padding": 0, "symbolType": "stroke", "symbolSize": 1156, "symbolStrokeWidth": 3, "symbolOpacity": 1, "labelFontSize": 16, "labelColor": "black", "labelOffset": 13, "labelLimit": 400}}
     }},
    {"data": {"name": "obs"}, "mark": {"type": "point", "filled": true, "clip": true, "size": 48, "opacity": 1, "color": "#808080"},
     "encoding": {
      "x": {"field": "t", "type": "quantitative", "axis": null},
      "y": {"field": "v", "type": "quantitative", "axis": null},
      "shape": {"datum": "GMST HadCRUT measurements Y\u2099", "type": "nominal",
        "scale": {"domain": ["GMST HadCRUT measurements Y\u2099"], "range": ["circle"]},
        "legend": {"title": null, "orient": "none", "legendX": 53, "legendY": 50, "padding": 0, "symbolSize": 40, "symbolFillColor": "#808080", "symbolStrokeWidth": 0, "symbolOpacity": 1, "labelFontSize": 16, "labelColor": "black", "labelOffset": 20, "labelLimit": 400}}
     }}
   ]
  },
  {
   "width": 395, "height": 700,
   "title": {"text": "b)", "anchor": "start", "frame": "bounds", "fontSize": 24, "fontWeight": "normal", "offset": -5, "dx": 11},
   "resolve": {"axis": {"x": "independent", "y": "independent"}},
   "layer": [
    {"data": {"name": "bg"}, "mark": {"type": "rect", "color": "#f7fcf5", "clip": true},
     "encoding": {
      "x": {"field": "t0", "type": "quantitative", "scale": {"domain": [1990, 2100], "nice": false, "zero": false},
            "axis": {"orient": "bottom", "values": [2000,2020,2040,2060,2080,2100], "format": "d", "tickSize": -7, "labelPadding": 16, "labelFlush": false, "title": "Year", "titlePadding": 6}},
      "x2": {"field": "t1"},
      "y": {"datum": 287, "type": "quantitative", "scale": {"domain": [287, 290.5], "nice": false, "zero": false},
            "axis": {"orient": "left", "values": [287,287.5,288,288.5,289,289.5,290,290.5], "format": ".1f", "tickSize": -7, "labelPadding": 15, "title": "Temperature (K)", "titlePadding": 6}},
      "y2": {"datum": 290.5}
     }},
    {"data": {"name": "bb"}, "mark": {"type": "area", "clip": true, "interpolate": "monotone"},
     "encoding": {
      "x": {"field": "t", "type": "quantitative", "axis": null},
      "y": {"field": "lo", "type": "quantitative", "axis": null},
      "y2": {"field": "hi"},
      "fill": {"field": "lv", "type": "ordinal", "scale": {"domain": [1,2,3,4], "range": ["#e6f5e2", "#c6e9c0", "#8ccf8a", "#45a55d"]}, "legend": null}
     }},
    {"data": {"name": "sb"}, "mark": {"type": "line", "clip": true, "strokeWidth": 0.8, "opacity": 0.75, "color": "#2e3d82", "interpolate": "monotone"},
     "encoding": {
      "x": {"field": "t", "type": "quantitative", "axis": null},
      "y": {"field": "v", "type": "quantitative", "axis": null},
      "detail": {"field": "s", "type": "nominal"}
     }},
    {"data": {"name": "hist"}, "mark": {"type": "line", "clip": true, "strokeWidth": 11, "opacity": 0.85, "color": "#80dca4"},
     "encoding": {
      "x": {"field": "t", "type": "quantitative", "axis": null},
      "y": {"field": "v", "type": "quantitative", "axis": null}
     }},
    {"data": {"name": "hist"}, "mark": {"type": "line", "clip": true, "strokeWidth": 3, "color": "#1b2a6b"},
     "encoding": {
      "x": {"field": "t", "type": "quantitative", "axis": {"orient": "top", "values": [2000,2020,2040,2060,2080,2100], "tickSize": -7, "labels": false, "title": "RCP 8.5 Future Projection", "titleFontSize": 25, "titlePadding": 10}},
      "y": {"field": "v", "type": "quantitative", "axis": {"orient": "right", "values": [287,287.5,288,288.5,289,289.5,290,290.5], "tickSize": -7, "labels": false, "title": null}}
     }},
    {"data": {"name": "obs"}, "mark": {"type": "circle", "clip": true, "size": 48, "opacity": 1, "color": "#808080"},
     "encoding": {
      "x": {"field": "t", "type": "quantitative", "axis": null},
      "y": {"field": "v", "type": "quantitative", "axis": null}
     }}
   ]
  },
  {
   "width": 48, "height": 700,
   "data": {"name": "cb"},
   "mark": {"type": "rect"},
   "encoding": {
    "y": {"field": "lo", "type": "quantitative", "scale": {"domain": [0, 0.13], "nice": false, "zero": true},
          "axis": {"orient": "right", "values": [0,0.02,0.04,0.06,0.08,0.1,0.12], "format": ".2f", "tickSize": 6, "labelPadding": 6, "title": "Probability Density per 0.1K", "titleAngle": 270, "titleBaseline": "top", "titleFontSize": 19, "titlePadding": 8}},
    "y2": {"field": "hi"},
    "fill": {"field": "k", "type": "ordinal", "scale": {"domain": [1,2,3,4,5,6,7,8,9,10,11,12,13], "range": ["#f7fcf5","#e9f6e6","#d4eece","#b4e0ad","#8ccf8a","#5cb86b","#37984f","#187c3b","#00592b","#045a4a","#06756e","#1d8aa7","#4d9bc9"]}, "legend": null}
   }
  }
 ],
 "resolve": {"scale": {"color": "independent", "fill": "independent", "stroke": "independent", "shape": "independent", "strokeDash": "independent"}},
 "config": {
  "font": "Liberation Sans",
  "view": {"stroke": "black", "strokeWidth": 1.5},
  "axis": {"grid": false, "domain": false, "tickColor": "black", "tickWidth": 1.3, "labelColor": "black", "titleColor": "black", "labelFontSize": 20, "titleFontSize": 20, "titleFontWeight": "normal", "labelFont": "Liberation Sans", "titleFont": "Liberation Sans"},
  "legend": {"labelFont": "Liberation Sans"},
  "title": {"font": "Liberation Sans", "color": "black"}
 }
}
